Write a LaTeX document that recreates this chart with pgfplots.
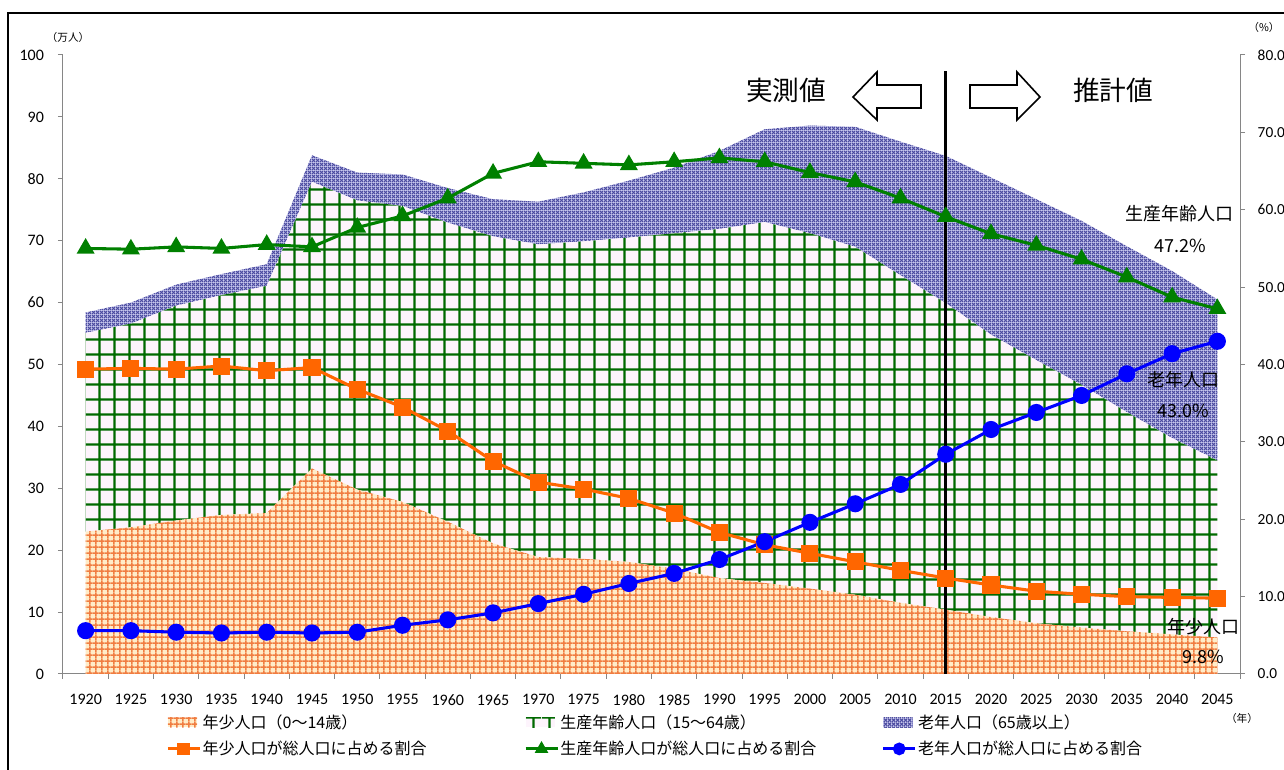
\documentclass[border=0pt]{standalone}
\usepackage{fontspec}
\setmainfont{Carlito}
\newfontfamily\jp{Noto Sans CJK JP}
\usepackage{pgfplots}
\usepackage{pgfplotstable}
\pgfplotsset{compat=1.18}
\usetikzlibrary{patterns}

\definecolor{youthbg}{RGB}{255,236,200}
\definecolor{youthln}{RGB}{240,125,65}
\definecolor{workbg}{RGB}{253,244,252}
\definecolor{workln}{RGB}{0,105,0}
\definecolor{eldbg}{RGB}{200,200,238}
\definecolor{eldln}{RGB}{75,75,160}
\definecolor{lorange}{RGB}{255,102,0}
\definecolor{lgreen}{RGB}{0,128,0}
\definecolor{lblue}{RGB}{0,0,255}
\definecolor{axgray}{RGB}{134,134,134}

\pgfdeclarepatternformonly{youthgrid}{\pgfqpoint{0pt}{0pt}}{\pgfqpoint{4.7pt}{4.7pt}}{\pgfqpoint{4.7pt}{4.7pt}}{%
 \pgfsetlinewidth{1.2pt}%
 \pgfpathmoveto{\pgfqpoint{0pt}{2.35pt}}\pgfpathlineto{\pgfqpoint{4.7pt}{2.35pt}}%
 \pgfpathmoveto{\pgfqpoint{2.35pt}{0pt}}\pgfpathlineto{\pgfqpoint{2.35pt}{4.7pt}}%
 \pgfusepath{stroke}}
\pgfdeclarepatternformonly{workgrid}{\pgfqpoint{0pt}{0pt}}{\pgfqpoint{11.6pt}{11.6pt}}{\pgfqpoint{11.6pt}{11.6pt}}{%
 \pgfsetlinewidth{1.7pt}%
 \pgfpathmoveto{\pgfqpoint{0pt}{5.8pt}}\pgfpathlineto{\pgfqpoint{11.6pt}{5.8pt}}%
 \pgfpathmoveto{\pgfqpoint{5.8pt}{0pt}}\pgfpathlineto{\pgfqpoint{5.8pt}{11.6pt}}%
 \pgfusepath{stroke}}
\pgfdeclarepatternformonly{eldhatch}{\pgfqpoint{0pt}{0pt}}{\pgfqpoint{3pt}{3pt}}{\pgfqpoint{3pt}{3pt}}{%
 \pgfsetlinewidth{0.95pt}%
 \pgfpathmoveto{\pgfqpoint{0pt}{0pt}}\pgfpathlineto{\pgfqpoint{3pt}{3pt}}%
 \pgfpathmoveto{\pgfqpoint{0pt}{3pt}}\pgfpathlineto{\pgfqpoint{3pt}{0pt}}%
 \pgfusepath{stroke}}

\pgfplotsset{
  myarea/.style={legend image code/.code={\path[##1] (0pt,-3.5pt) rectangle (22pt,3.5pt);}},
  myline/.style={legend image code/.code={\draw[mark repeat=2,mark phase=2,##1,mark size=3.6pt] plot coordinates {(0pt,0pt) (12pt,0pt) (24pt,0pt)};}},
}

\pgfplotstableread{
x youth work eld ry rw re
0  23.0 32.1 3.3  39.4 55.0 5.6
1  23.7 32.9 3.4  39.5 54.9 5.6
2  24.8 34.7 3.4  39.4 55.2 5.4
3  25.7 35.5 3.4  39.8 55.0 5.3
4  26.0 36.7 3.5  39.2 55.5 5.4
5  33.2 46.3 4.3  39.6 55.2 5.3
6  29.8 46.7 4.5  36.8 57.7 5.4
7  27.8 47.8 5.1  34.5 59.2 6.3
8  24.6 48.3 5.6  31.4 61.5 7.0
9  21.1 49.6 6.0  27.5 64.7 7.9
10 18.9 50.5 6.9  24.8 66.2 9.1
11 18.6 51.3 7.9  23.9 66.0 10.3
12 18.1 52.4 9.2  22.7 65.8 11.7
13 17.0 54.2 10.6 20.8 66.2 13.0
14 15.5 56.4 12.6 18.3 66.7 14.8
15 14.7 58.3 15.0 16.7 66.2 17.1
16 13.8 57.4 17.4 15.6 64.8 19.6
17 12.8 56.2 19.4 14.5 63.6 22.0
18 11.5 52.9 21.6 13.4 61.5 24.5
19 10.4 49.5 23.8 12.4 59.1 28.4
20 9.2  45.6 25.4 11.5 56.9 31.6
21 8.2  42.5 26.0 10.7 55.4 33.8
22 7.5  39.2 26.5 10.3 53.6 36.0
23 6.9  35.4 26.8 10.0 51.3 38.8
24 6.4  31.7 27.0 9.9  48.7 41.4
25 5.9  28.6 26.0 9.8  47.2 43.0
}\data

\begin{document}
\begin{tikzpicture}
\useasboundingbox (0pt,0pt) rectangle (963pt,577.5pt);
\begin{scope}[x=0.75pt,y=0.75pt]
\fill[white] (0,0) rectangle (1284,770);
\draw[line width=1.5pt] (8,0) -- (8,757) -- (1284,757);
\end{scope}

\begin{axis}[
  at={(47.25pt,72pt)}, anchor=south west, scale only axis,
  width=882.75pt, height=464.25pt,
  xmin=-0.5, xmax=25.5, ymin=0, ymax=100,
  axis x line*=bottom, axis y line*=left,
  x axis line style={-}, y axis line style={-},
  axis line style={draw=axgray, line width=0.75pt},
  xtick={-0.5,0.5,...,25.5}, x tick label as interval,
  xticklabels={1920,1925,1930,1935,1940,1945,1950,1955,1960,1965,1970,1975,1980,1985,1990,1995,2000,2005,2010,2015,2020,2025,2030,2035,2040,2045},
  ytick={0,10,...,100},
  tick align=outside, major tick length=3.75pt,
  tick style={draw=axgray, line width=0.75pt},
  ticklabel style={font=\fontsize{12}{14}\selectfont},
  /pgf/number format/assume math mode=true,
  yticklabel style={xshift=-7pt},
  xticklabel style={yshift=-8pt},
  stack plots=y,
]
\addplot[draw=none, fill=youthbg, postaction={pattern=youthgrid, pattern color=youthln}] table[x=x,y=youth]{\data} \closedcycle;
\addplot[draw=none, fill=workbg, postaction={pattern=workgrid, pattern color=workln}] table[x=x,y=work]{\data} \closedcycle;
\addplot[draw=none, fill=eldbg, postaction={pattern=eldhatch, pattern color=eldln}] table[x=x,y=eld]{\data} \closedcycle;
\end{axis}

\begin{axis}[
  at={(47.25pt,72pt)}, anchor=south west, scale only axis,
  width=882.75pt, height=464.25pt,
  xmin=-0.5, xmax=25.5, ymin=0, ymax=80,
  axis x line=none, axis y line*=right,
  y axis line style={-},
  axis line style={draw=axgray, line width=0.75pt},
  ytick={0,10,...,80},
  tick align=outside, major tick length=3.75pt,
  tick style={draw=axgray, line width=0.75pt},
  ticklabel style={font=\fontsize{11.5}{14}\selectfont},
  /pgf/number format/assume math mode=true,
  yticklabel style={/pgf/number format/.cd, fixed, fixed zerofill, precision=1, /tikz/.cd, xshift=6pt},
  legend columns=3,
  legend cell align=left,
  legend style={at={(0.0875,-0.0633)}, anchor=north west, draw=none, fill=none, inner sep=0pt,
    font=\jp\fontsize{12}{14}\selectfont, /tikz/row sep=6pt, nodes={inner sep=1pt}},
  myline,
  clip=false,
]
\draw[line width=2.25pt] (axis cs:19,0) -- (axis cs:19,77.9);
\addlegendimage{myarea, draw=none, fill=youthbg, postaction={pattern=youthgrid, pattern color=youthln}}
\addlegendentry{\makebox[240pt][l]{年少人口（0～14歳）}}
\addlegendimage{myarea, draw=none, fill=workbg, postaction={pattern=workgrid, pattern color=workln}}
\addlegendentry{\makebox[240pt][l]{生産年齢人口（15～64歳）}}
\addlegendimage{myarea, draw=none, fill=eldbg, postaction={pattern=eldhatch, pattern color=eldln}}
\addlegendentry{\makebox[240pt][l]{老年人口（65歳以上）}}
\addplot[lorange, line width=2.3pt, mark=square*, mark size=5.25pt, mark options={solid}] table[x=x,y=ry]{\data};
\addlegendentry{\makebox[240pt][l]{年少人口が総人口に占める割合}}
\addplot[lgreen, line width=2.3pt, mark=triangle*, mark size=5.5pt, mark options={solid}] table[x=x,y=rw]{\data};
\addlegendentry{\makebox[240pt][l]{生産年齢人口が総人口に占める割合}}
\addplot[lblue, line width=2.3pt, mark=*, mark size=5.25pt, mark options={solid}] table[x=x,y=re]{\data};
\addlegendentry{\makebox[240pt][l]{老年人口が総人口に占める割合}}
\end{axis}

\begin{scope}[x=0.75pt,y=0.75pt]
\draw[line width=1.2pt, fill=white] (853,673) -- (877,698) -- (877,685) -- (921,685) -- (921,662) -- (877,662) -- (877,650) -- cycle;
\draw[line width=1.2pt, fill=white] (970,685) -- (1017,685) -- (1017,698) -- (1040,673) -- (1017,650) -- (1017,662) -- (970,662) -- cycle;
\node[font=\jp\fontsize{20}{24}\selectfont] at (786,680) {実測値};
\node[font=\jp\fontsize{20}{24}\selectfont] at (1113,680) {推計値};

\node[font=\jp\fontsize{13.5}{16}\selectfont] at (1179,556) {生産年齢人口};
\node[font=\jp\fontsize{13.5}{16}\selectfont] at (1180,524) {47.2\%};
\node[font=\jp\fontsize{13.5}{16}\selectfont] at (1183,390) {老年人口};
\node[font=\jp\fontsize{13.5}{16}\selectfont] at (1183,359) {43.0\%};
\node[font=\jp\fontsize{13.5}{16}\selectfont] at (1203,143) {年少人口};
\node[font=\jp\fontsize{13.5}{16}\selectfont] at (1203,113) {9.8\%};

\node[font=\jp\fontsize{8}{10}\selectfont] at (68,733) {（万人）};
\node[font=\jp\fontsize{8}{10}\selectfont] at (1264,743) {（\%）};
\node[font=\jp\fontsize{8}{10}\selectfont] at (1242,52) {（年）};
\end{scope}
\end{tikzpicture}
\end{document}
